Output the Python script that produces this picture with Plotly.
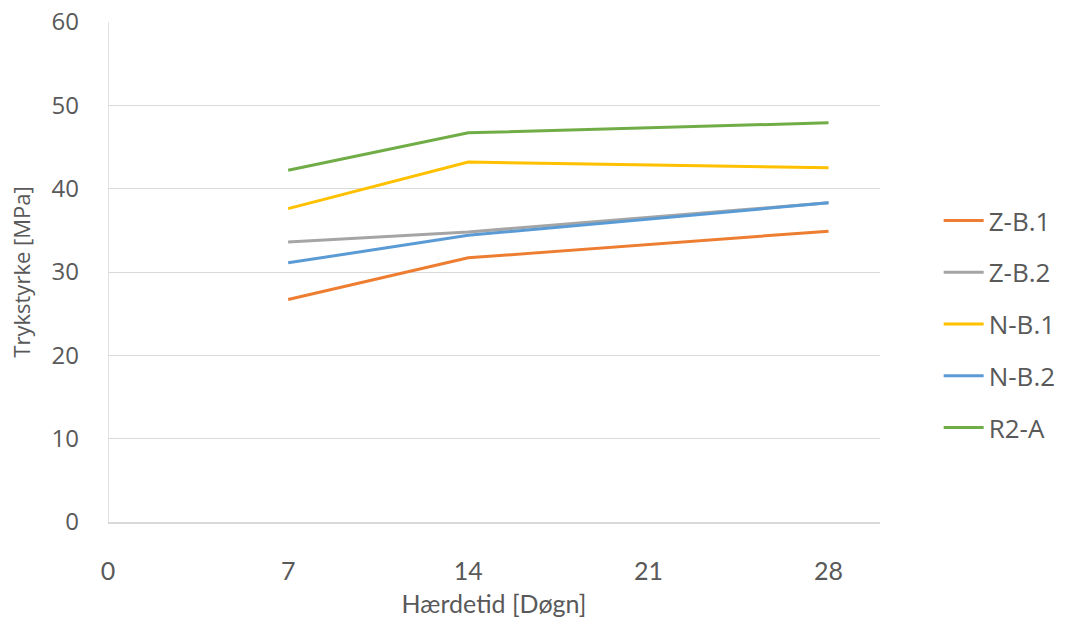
import plotly.graph_objects as go

# Curing age (days) and compressive strength (MPa) per mix
days = [7, 14, 28]
series_names = ["Z-B.1", "Z-B.2", "N-B.1", "N-B.2", "R2-A"]
z_b1 = [26.7, 31.7, 34.9]
z_b2 = [33.6, 34.8, 38.3]
n_b1 = [37.6, 43.2, 42.5]
n_b2 = [31.1, 34.4, 38.3]
r2_a = [42.2, 46.7, 47.9]

x_ticks = [0, 7, 14, 21, 28]
y_ticks = [0, 10, 20, 30, 40, 50, 60]

colors = ["#ED7D31", "#A5A5A5", "#FFC000", "#5B9BD5", "#70AD47"]
values = [z_b1, z_b2, n_b1, n_b2, r2_a]

text_color = "#595959"

fig = go.Figure()
for name, vals, col in zip(series_names, values, colors):
    fig.add_trace(go.Scatter(
        x=days, y=vals, name=name, mode="lines",
        line=dict(color=col, width=3),
        legendgroup=name,
    ))

fig.update_layout(
    width=1067, height=618,
    margin=dict(l=108, r=187, t=22, b=96, autoexpand=False),
    paper_bgcolor="white", plot_bgcolor="white",
    showlegend=True,
    legend=dict(
        x=1.076, y=0.395, xanchor="left", yanchor="middle",
        font=dict(family="Open Sans, sans-serif", size=26, color=text_color),
        tracegroupgap=15, itemwidth=40,
        bgcolor="rgba(0,0,0,0)",
    ),
    xaxis=dict(
        range=[0, 30], tickvals=x_ticks, ticktext=[str(t) for t in x_ticks],
        showgrid=False, zeroline=False, automargin=False,
        showline=True, linecolor="#D9D9D9", linewidth=1.5,
        ticks="", tickfont=dict(family="Lato, sans-serif", size=25, color=text_color),
        ticklabelstandoff=26,
        title=dict(text="Hærdetid [Døgn]", standoff=18,
                   font=dict(family="Lato, sans-serif", size=25, color=text_color)),
    ),
    yaxis=dict(
        range=[0, 60], tickvals=y_ticks,
        showgrid=True, gridcolor="#D9D9D9", gridwidth=1,
        zeroline=False, showline=False, automargin=False,
        ticks="", tickfont=dict(family="Open Sans, sans-serif", size=24, color=text_color),
        ticklabelstandoff=28,
        title=dict(text="Trykstyrke [MPa]", standoff=14,
                   font=dict(family="Open Sans, sans-serif", size=22, color=text_color)),
    ),
)

# Vertical axis line at x = 0
fig.add_shape(type="line", xref="x", yref="paper", x0=0, x1=0, y0=0, y1=1,
              line=dict(color="#D9D9D9", width=1.5))

fig.write_html("out.html")
